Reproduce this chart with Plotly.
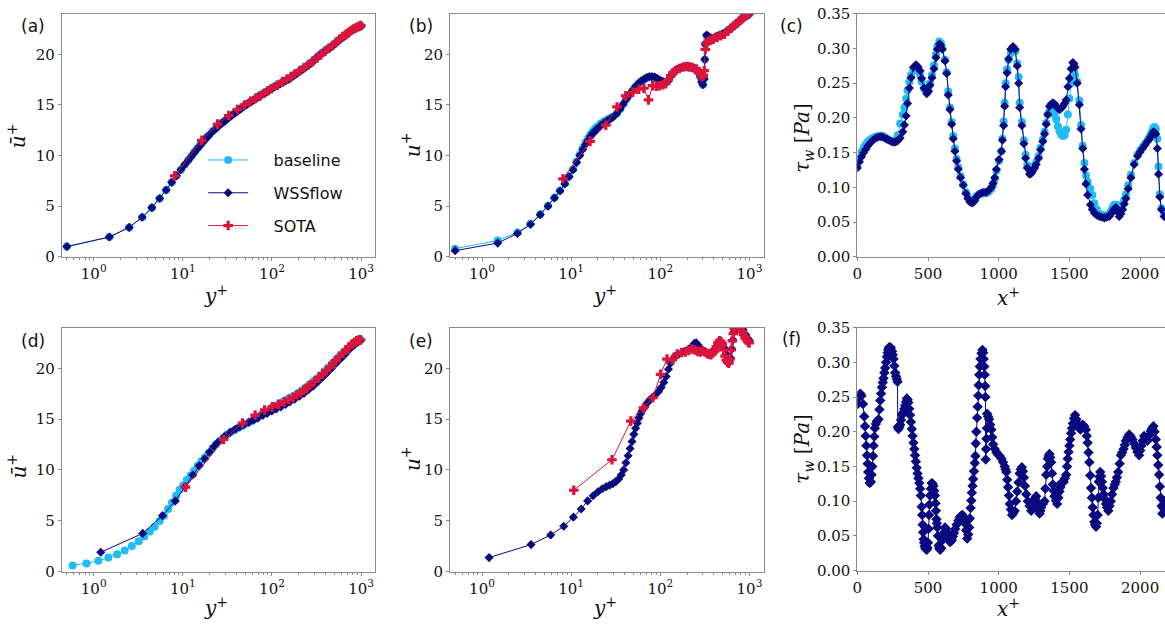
import plotly.graph_objects as go

# ---------------- colours ----------------
C_BASE = "#1ebcf2"
C_WSS = "#0a0a80"
C_SOTA = "#dc143c"

# ---------------- series names ----------------
names = ["baseline", "WSSflow", "SOTA"]
PAD = "\u00a0\u00a0\u00a0\u00a0"

# ---------------- panel (a): mean profile, case 1 ----------------
a_y = [0.5, 1.5, 2.5, 3.5, 4.5, 5.5, 6.5, 7.5, 8.5, 9.5, 10.5, 11.5, 12.5, 13.5, 14.5, 15.5, 16.5, 17.5, 18.5, 19.5,
       21.5, 23.5, 25.5, 27.5, 29.5, 32.5, 35.5, 38.5, 41.5, 44.5, 48.5, 52.5, 56.5, 60.5, 65.5, 70.5, 75.5, 80.5,
       86.5, 92.5, 99.5, 107.5, 115.5, 124.5, 133.5, 143.5, 154.5, 166.5, 179.5, 193.5, 208.5, 224.5, 241.5, 259.5,
       279.5, 300.5, 323.5, 347.5, 373.5, 401.5, 431.5, 463.5, 497.5, 534.5, 574.5, 617.5, 663.5, 712.5, 765.5,
       822.5, 883.5, 948.5, 999.5]
a_base = [1.0, 1.95, 2.9, 3.9, 4.85, 5.75, 6.6, 7.35, 8.0, 8.6, 9.1, 9.55, 9.95, 10.35, 10.7, 11.0, 11.3, 11.55, 11.8,
          12.0, 12.4, 12.7, 13.0, 13.25, 13.45, 13.75, 14.0, 14.25, 14.45, 14.65, 14.9, 15.1, 15.3, 15.45, 15.65,
          15.85, 16.0, 16.15, 16.3, 16.5, 16.65, 16.85, 17.0, 17.15, 17.3, 17.45, 17.6, 17.8, 18.0, 18.2, 18.4, 18.6,
          18.8, 19.0, 19.25, 19.5, 19.75, 20.0, 20.2, 20.4, 20.6, 20.8, 21.0, 21.25, 21.5, 21.7, 21.9, 22.1, 22.3,
          22.5, 22.65, 22.75, 22.8]
a_wss = [1.0, 1.95, 2.9, 3.9, 4.85, 5.75, 6.6, 7.35, 8.0, 8.6, 9.1, 9.5, 9.9, 10.3, 10.65, 10.95, 11.25, 11.5, 11.75,
         11.95, 12.35, 12.65, 12.95, 13.2, 13.4, 13.7, 13.95, 14.2, 14.4, 14.6, 14.85, 15.05, 15.25, 15.4, 15.6,
         15.8, 15.95, 16.1, 16.25, 16.45, 16.6, 16.8, 16.95, 17.1, 17.25, 17.4, 17.55, 17.75, 17.95, 18.15, 18.35,
         18.55, 18.75, 18.95, 19.2, 19.45, 19.7, 19.95, 20.15, 20.35, 20.55, 20.75, 20.95, 21.2, 21.45, 21.65, 21.85,
         22.05, 22.3, 22.5, 22.65, 22.75, 22.8]
a_sota_y = [8.1, 16.3, 24.5, 32.7, 40.9, 49.1, 57.3, 65.5, 73.7, 81.9, 90.1, 98.3, 114.7, 131.1, 147.5, 163.9, 180.3,
            204.9, 229.5, 254.1, 286.9, 319.7, 352.5, 393.5, 434.5, 475.5, 524.7, 573.9, 623.1, 672.3, 721.5, 770.7,
            819.9, 869.1, 918.3, 967.5, 992.1]
a_sota = [8.0, 11.5, 13.1, 13.95, 14.55, 15.0, 15.35, 15.65, 15.9, 16.15, 16.4, 16.6, 16.95, 17.3, 17.55, 17.8, 18.05,
          18.4, 18.7, 18.95, 19.3, 19.65, 19.95, 20.3, 20.6, 20.85, 21.2, 21.5, 21.75, 21.95, 22.15, 22.35, 22.5,
          22.6, 22.7, 22.8, 22.85]

# ---------------- panel (b): instantaneous profile, case 1 ----------------
b_y = [0.5, 1.5, 2.5, 3.5, 4.5, 5.5, 6.5, 7.5, 8.5, 9.5, 10.5, 11.5, 12.5, 13.5, 14.5, 15.5, 16.5, 17.5, 18.5, 19.5,
       21.5, 23.5, 25.5, 27.5, 29.5, 32.5, 35.5, 38.5, 41.5, 44.5, 48.5, 52.5, 56.5, 60.5, 65.5, 70.5, 75.5, 80.5,
       86.5, 92.5, 99.5, 107.5, 115.5, 124.5, 133.5, 143.5, 154.5, 166.5, 179.5, 193.5, 208.5, 224.5, 241.5, 259.5,
       279.5, 290.5, 300.5, 310.5, 315.5, 320.5, 330.5, 345.5, 373.5, 401.5, 431.5, 463.5, 497.5, 534.5, 574.5,
       617.5, 663.5, 712.5, 765.5, 822.5, 883.5, 948.5, 999.5]
b_wss = [0.6, 1.35, 2.3, 3.2, 4.15, 5.0, 5.8, 6.5, 7.2, 7.9, 8.6, 9.3, 10.0, 10.6, 11.1, 11.5, 11.9, 12.2, 12.45, 12.65,
         13.0, 13.25, 13.45, 13.6, 13.8, 14.15, 14.6, 15.1, 15.55, 15.95, 16.4, 16.8, 17.1, 17.35, 17.55, 17.7, 17.8,
         17.8, 17.75, 17.6, 17.45, 17.3, 17.2, 17.5, 17.95, 18.25, 18.5, 18.65, 18.75, 18.8, 18.8, 18.75, 18.6, 18.3,
         17.8, 17.3, 17.0, 17.6, 19.5, 21.0, 21.9, 21.8, 21.6, 21.6, 21.8, 21.9, 22.0, 22.15, 22.35, 22.55, 22.8,
         23.0, 23.25, 23.5, 23.7, 23.85, 24.0]
b_base = [0.8, 1.6, 2.4, 3.25, 4.2, 5.05, 5.85, 6.55, 7.25, 7.95, 8.65, 9.4, 10.1, 10.75, 11.3, 11.7, 12.1, 12.4,
          12.65, 12.85, 13.2, 13.4, 13.55, 13.7, 13.85, 14.15, 14.6, 15.1, 15.55, 15.95, 16.4, 16.8, 17.1, 17.3,
          17.5, 17.65, 17.75, 17.75, 17.7, 17.55, 17.4, 17.3, 17.2, 17.5, 17.95, 18.25, 18.5, 18.65, 18.75, 18.8,
          18.8, 18.75, 18.6, 18.3, 17.8, 17.3, 17.0, 17.6, 19.5, 21.0, 21.8, 21.7, 21.6, 21.6, 21.8, 21.9, 22.0,
          22.15, 22.35, 22.55, 22.8, 23.0, 23.25, 23.5, 23.7, 23.85, 24.0]
b_sota_y = [8.1, 16.3, 24.5, 32.7, 40.9, 49.1, 57.3, 65.5, 73.7, 81.9, 90.1, 98.3, 106.5, 114.7, 122.9, 131.1, 139.3,
            147.5, 163.9, 180.3, 196.7, 213.1, 229.5, 254.1, 270.5, 286.9, 295.1, 303.3, 311.5, 319.7, 327.9, 344.3,
            368.9, 393.5, 434.5, 475.5, 524.7, 573.9, 623.1, 672.3, 721.5, 770.7, 819.9, 869.1, 918.3, 967.5, 992.1]
b_sota = [7.7, 11.4, 13.0, 14.8, 15.9, 16.25, 16.55, 16.65, 15.5, 16.9, 16.85, 16.9, 17.0, 17.1, 17.5, 17.9, 18.2,
          18.4, 18.6, 18.75, 18.8, 18.75, 18.7, 18.55, 18.3, 17.9, 17.8, 17.95, 18.4, 20.5, 21.1, 21.3, 21.4, 21.5,
          21.7, 21.85, 22.0, 22.3, 22.6, 22.85, 23.05, 23.3, 23.5, 23.7, 23.85, 24.0, 24.05]

# ---------------- panel (c): wall shear stress, case 1 ----------------
c_x = [0, 15, 30, 45, 60, 75, 92, 110, 130, 150, 165, 180, 195, 210, 225, 240, 256, 270, 285, 303, 322, 333, 345,
       355, 368, 380, 397, 415, 430, 444, 455, 472, 491, 503, 514, 528, 542, 556, 566, 580, 590, 601, 620, 632, 643,
       655, 667, 678, 690, 702, 714, 730, 749, 768, 782, 796, 808, 819, 831, 843, 860, 878, 895, 913, 930, 948, 960,
       972, 984, 1002, 1019, 1026, 1035, 1042, 1049, 1059, 1070, 1085, 1101, 1117, 1131, 1141, 1148, 1164, 1178,
       1190, 1202, 1218, 1230, 1242, 1254, 1265, 1282, 1296, 1312, 1324, 1336, 1347, 1359, 1371, 1383, 1395, 1407,
       1418, 1430, 1442, 1454, 1466, 1477, 1489, 1500, 1512, 1524, 1532, 1540, 1555, 1570, 1582, 1594, 1606, 1617,
       1629, 1648, 1662, 1676, 1694, 1711, 1729, 1747, 1764, 1782, 1794, 1805, 1817, 1829, 1840, 1852, 1864, 1876,
       1888, 1900, 1916, 1935, 1958, 1982, 2000, 2017, 2035, 2052, 2064, 2076, 2085, 2094, 2103, 2111, 2122, 2130,
       2139, 2151, 2170]
c_wss = [0.128, 0.137, 0.144, 0.150, 0.155, 0.160, 0.164, 0.168, 0.171, 0.1725, 0.173, 0.1725, 0.171, 0.1695,
         0.168, 0.166, 0.165, 0.1655, 0.167, 0.171, 0.180, 0.190, 0.203, 0.221, 0.243, 0.258, 0.273, 0.2765, 0.2735,
         0.268, 0.257, 0.243, 0.235, 0.238, 0.247, 0.258, 0.271, 0.287, 0.299, 0.3065, 0.305, 0.299, 0.282, 0.264,
         0.233, 0.212, 0.191, 0.170, 0.152, 0.138, 0.126, 0.114, 0.103, 0.091, 0.084, 0.079, 0.078, 0.078, 0.081,
         0.086, 0.090, 0.092, 0.093, 0.093, 0.096, 0.100, 0.106, 0.114, 0.126, 0.140, 0.152, 0.168, 0.189, 0.217,
         0.245, 0.265, 0.285, 0.299, 0.303, 0.299, 0.275, 0.250, 0.215, 0.189, 0.163, 0.142, 0.128, 0.119, 0.120,
         0.124, 0.128, 0.133, 0.142, 0.154, 0.166, 0.177, 0.191, 0.205, 0.217, 0.220, 0.222, 0.220, 0.217, 0.214,
         0.212, 0.214, 0.217, 0.221, 0.226, 0.245, 0.257, 0.271, 0.280, 0.278, 0.273, 0.250, 0.219, 0.184, 0.156,
         0.126, 0.105, 0.089, 0.075, 0.068, 0.063, 0.060, 0.058, 0.057, 0.056, 0.057, 0.058, 0.062, 0.065, 0.069,
         0.071, 0.065, 0.058, 0.062, 0.068, 0.076, 0.084, 0.098, 0.114, 0.133, 0.145, 0.151, 0.156, 0.161, 0.166,
         0.169, 0.173, 0.176, 0.180, 0.179, 0.177, 0.156, 0.119, 0.086, 0.068, 0.058]
c_base = [0.132, 0.143, 0.151, 0.157, 0.162, 0.166, 0.169, 0.171, 0.173, 0.174, 0.1745, 0.174, 0.172, 0.170,
          0.168, 0.167, 0.166, 0.168, 0.175, 0.192, 0.205, 0.215, 0.228, 0.240, 0.252, 0.262, 0.270, 0.272, 0.268,
          0.262, 0.252, 0.242, 0.238, 0.240, 0.250, 0.262, 0.276, 0.292, 0.303, 0.310, 0.308, 0.300, 0.284, 0.266,
          0.238, 0.215, 0.194, 0.174, 0.156, 0.141, 0.129, 0.116, 0.104, 0.093, 0.086, 0.081, 0.080, 0.080, 0.083,
          0.087, 0.090, 0.091, 0.092, 0.092, 0.094, 0.098, 0.104, 0.112, 0.124, 0.138, 0.152, 0.170, 0.195, 0.222,
          0.250, 0.270, 0.284, 0.293, 0.297, 0.296, 0.279, 0.259, 0.222, 0.194, 0.168, 0.147, 0.132, 0.123, 0.123,
          0.127, 0.131, 0.136, 0.145, 0.157, 0.169, 0.180, 0.193, 0.205, 0.210, 0.213, 0.211, 0.205, 0.198, 0.188,
          0.181, 0.176, 0.174, 0.175, 0.183, 0.205, 0.228, 0.250, 0.262, 0.267, 0.262, 0.252, 0.225, 0.190, 0.160,
          0.135, 0.117, 0.108, 0.098, 0.089, 0.077, 0.068, 0.062, 0.060, 0.059, 0.060, 0.062, 0.066, 0.071, 0.075,
          0.075, 0.074, 0.071, 0.072, 0.076, 0.082, 0.090, 0.103, 0.118, 0.135, 0.147, 0.153, 0.158, 0.163, 0.168,
          0.172, 0.177, 0.181, 0.186, 0.187, 0.184, 0.170, 0.130, 0.090, 0.070, 0.060]

# ---------------- panel (d): mean profile, case 2 ----------------
d_base_y = [0.58, 0.83, 1.13, 1.46, 1.83, 2.23, 2.68, 3.2, 3.69, 4.26, 4.83, 5.5, 6.13, 6.83, 7.56, 8.4, 9.2, 10.1,
            11.1, 12.2, 13.4, 14.7, 16.1, 17.7, 19.5, 21.5, 23.7, 26.1, 28.7, 31.6, 34.8, 38.3, 42.2, 46.5, 51.2,
            56.4, 62.1, 68.4, 75.3, 82.9, 91.3, 100.5, 110.7, 121.9, 134.2, 147.8, 162.7, 179.2, 197.3, 217.3,
            239.3, 263.5, 290.2, 319.5, 351.8, 387.4, 426.6, 469.7, 517.2, 569.5, 627.1, 690.5, 760.3, 837.2,
            921.8, 985.0]
d_base = [0.58, 0.8, 1.05, 1.37, 1.7, 2.08, 2.5, 2.97, 3.45, 3.93, 4.4, 4.98, 5.5, 6.15, 6.8, 7.45, 8.05, 8.5, 9.0,
          9.45, 9.95, 10.4, 10.85, 11.25, 11.7, 12.1, 12.55, 12.9, 13.2, 13.5, 13.75, 13.95, 14.15, 14.35, 14.55,
          14.75, 14.95, 15.15, 15.4, 15.6, 15.85, 16.15, 16.35, 16.55, 16.75, 16.95, 17.15, 17.35, 17.6, 17.85,
          18.1, 18.4, 18.7, 19.0, 19.35, 19.7, 20.05, 20.45, 20.8, 21.15, 21.5, 21.8, 22.1, 22.4, 22.65, 22.8]
d_wss_y = [1.2, 3.55, 5.9, 8.25, 10.6, 12.95, 15.3, 17.65, 20.0, 22.35, 24.7, 29.4, 34.1, 38.8, 43.5, 48.2, 55.25,
           62.3, 69.35, 78.75, 88.15, 99.9, 111.65, 125.75, 142.2, 158.65, 179.8, 203.3, 229.15, 257.35, 290.25,
           325.5, 367.8, 414.8, 466.5, 525.25, 590.9, 664.1, 746.35, 837.95, 929.6, 985.0]
d_wss = [1.9, 3.75, 5.5, 6.95, 8.35, 9.5, 10.4, 11.1, 11.75, 12.3, 12.7, 13.3, 13.7, 14.0, 14.25, 14.45, 14.7, 14.9,
         15.1, 15.35, 15.55, 15.8, 16.0, 16.2, 16.45, 16.7, 16.95, 17.25, 17.55, 17.9, 18.25, 18.65, 19.1, 19.55,
         20.0, 20.5, 20.95, 21.4, 21.9, 22.3, 22.6, 22.75]
d_sota_y = [10.7, 28.7, 46.7, 64.7, 82.7, 100.7, 118.7, 136.7, 154.7, 172.7, 190.7, 208.7, 226.7, 244.7, 262.7,
            298.7, 334.7, 370.7, 406.7, 442.7, 478.7, 514.7, 568.7, 622.7, 676.7, 730.7, 784.7, 838.7, 892.7,
            946.7, 982.7]
d_sota = [8.3, 13.0, 14.6, 15.4, 15.9, 16.2, 16.45, 16.7, 16.95, 17.15, 17.4, 17.6, 17.85, 18.05, 18.3, 18.7, 19.1,
          19.45, 19.8, 20.1, 20.45, 20.75, 21.15, 21.5, 21.8, 22.1, 22.35, 22.55, 22.7, 22.8, 22.8]

# ---------------- panel (e): instantaneous profile, case 2 ----------------
e_wss_y = [1.2, 3.55, 5.9, 8.25, 10.6, 12.95, 15.3, 17.65, 20.0, 22.35, 24.7, 27.05, 29.4, 31.75, 34.1, 36.45,
           38.8, 41.15, 43.5, 45.85, 48.2, 50.55, 52.9, 55.25, 57.6, 59.95, 62.3, 66.95, 71.65, 76.35, 81.05, 88.1,
           95.15, 102.2, 109.25, 116.3, 123.35, 130.4, 137.45, 146.85, 158.6, 172.7, 189.15, 207.95, 226.75,
           240.85, 252.6, 264.35, 278.45, 297.25, 320.75, 346.6, 374.8, 405.35, 431.2, 452.35, 473.5, 497.0,
           522.85, 546.35, 569.85, 595.7, 616.85, 635.65, 654.45, 673.25, 694.4, 743.75, 795.45, 849.5, 910.6,
           966.85, 999.75]
e_wss = [1.37, 2.65, 3.6, 4.45, 5.35, 6.15, 6.95, 7.45, 7.85, 8.15, 8.35, 8.5, 8.65, 8.85, 9.1, 9.5, 10.0, 10.7,
         11.4, 12.1, 12.8, 13.5, 14.1, 14.6, 15.1, 15.5, 15.8, 16.2, 16.6, 16.9, 17.1, 17.4, 17.7, 18.1, 18.6, 19.2,
         19.9, 20.5, 20.9, 21.2, 21.35, 21.5, 21.7, 21.9, 22.15, 22.45, 22.5, 22.3, 22.0, 21.8, 21.6, 21.5, 21.6,
         21.8, 22.2, 22.5, 22.6, 22.5, 22.0, 21.4, 20.9, 20.6, 21.0, 21.9, 22.8, 23.6, 24.1, 24.3, 24.2, 23.8,
         23.3, 22.9, 22.7]
e_sota_y = [10.7, 28.7, 46.7, 64.7, 82.7, 100.7, 118.7, 136.7, 154.7, 172.7, 190.7, 208.7, 226.7, 244.7, 262.7,
            280.7, 298.7, 316.7, 334.7, 352.7, 370.7, 388.7, 406.7, 424.7, 442.7, 460.7, 478.7, 496.7, 514.7,
            532.7, 550.7, 568.7, 586.7, 604.7, 622.7, 640.7, 658.7, 676.7, 694.7, 712.7, 748.7, 784.7, 820.7,
            856.7, 892.7, 928.7, 964.7, 994.7]
e_sota = [8.0, 11.0, 14.8, 16.1, 17.1, 19.4, 20.9, 20.85, 21.4, 21.55, 21.6, 21.75, 21.9, 21.8, 21.65, 21.6, 21.7,
          21.6, 21.45, 21.4, 21.35, 21.5, 21.7, 22.1, 22.5, 22.7, 22.6, 22.3, 21.8, 21.2, 20.8, 20.6, 20.5, 20.9,
          21.8, 22.7, 23.4, 23.9, 24.2, 24.3, 24.2, 23.9, 23.6, 23.3, 23.0, 22.8, 22.6, 22.5]

# ---------------- panel (f): wall shear stress, case 2 ----------------
f_x = [2, 12, 21, 30, 40, 49, 54, 59, 64, 68, 73, 77, 82, 87, 96, 101, 106, 111, 115, 120, 124, 131, 138, 150, 156,
       162, 168, 174, 180, 185, 191, 197, 203, 209, 214, 218, 223, 228, 237, 246, 251, 256, 262, 268, 274, 279, 284,
       286, 291, 297, 303, 309, 315, 320, 326, 332, 338, 344, 350, 356, 361, 367, 373, 379, 385, 391, 397, 403, 408,
       414, 420, 426, 432, 438, 444, 449, 455, 459, 462, 465, 469, 472, 476, 481, 486, 491, 496, 500, 504, 507, 510,
       514, 520, 526, 532, 538, 544, 549, 553, 556, 560, 563, 566, 570, 575, 580, 585, 594, 603, 611, 620, 628, 636,
       645, 655, 662, 669, 676, 683, 692, 702, 714, 725, 735, 744, 752, 761, 769, 777, 784, 791, 796, 801, 806, 810,
       815, 819, 825, 831, 835, 838, 842, 847, 851, 855, 858, 862, 866, 871, 878, 885, 890, 894, 898, 901, 904, 906,
       908, 911, 913, 916, 918, 925, 932, 940, 948, 954, 960, 972, 984, 996, 1007, 1019, 1031, 1042, 1048, 1054,
       1060, 1066, 1072, 1078, 1086, 1094, 1103, 1113, 1122, 1131, 1140, 1148, 1156, 1164, 1171, 1178, 1186, 1195,
       1206, 1218, 1230, 1240, 1249, 1257, 1265, 1271, 1277, 1283, 1289, 1295, 1300, 1312, 1324, 1330, 1336, 1342,
       1347, 1353, 1359, 1365, 1371, 1377, 1383, 1389, 1394, 1404, 1413, 1422, 1430, 1436, 1441, 1450, 1460, 1468,
       1477, 1483, 1488, 1494, 1500, 1506, 1512, 1518, 1524, 1532, 1540, 1549, 1559, 1568, 1578, 1586, 1594, 1605,
       1617, 1623, 1629, 1635, 1641, 1647, 1653, 1659, 1664, 1670, 1676, 1682, 1688, 1694, 1700, 1704, 1707, 1712,
       1718, 1724, 1730, 1736, 1742, 1750, 1758, 1766, 1775, 1784, 1793, 1802, 1812, 1820, 1828, 1836, 1845, 1855,
       1864, 1873, 1883, 1891, 1899, 1911, 1923, 1934, 1946, 1957, 1969, 1981, 1993, 2001, 2009, 2018, 2028, 2040,
       2052, 2064, 2075, 2085, 2094, 2102, 2111, 2117, 2122, 2128, 2134, 2140, 2146, 2152, 2157, 2163, 2169]
f_wss = [0.240, 0.250, 0.255, 0.252, 0.240, 0.222, 0.208, 0.194, 0.180, 0.166, 0.154, 0.142, 0.133, 0.126, 0.128,
         0.138, 0.150, 0.165, 0.180, 0.193, 0.205, 0.211, 0.215, 0.218, 0.232, 0.245, 0.255, 0.264, 0.271, 0.277,
         0.285, 0.292, 0.300, 0.308, 0.314, 0.318, 0.321, 0.322, 0.321, 0.316, 0.311, 0.305, 0.295, 0.285, 0.280,
         0.276, 0.272, 0.207, 0.204, 0.207, 0.210, 0.217, 0.224, 0.226, 0.228, 0.233, 0.238, 0.243, 0.248, 0.246,
         0.242, 0.233, 0.224, 0.214, 0.204, 0.194, 0.184, 0.175, 0.166, 0.157, 0.148, 0.140, 0.133, 0.126, 0.118,
         0.108, 0.092, 0.080, 0.066, 0.055, 0.045, 0.040, 0.035, 0.032, 0.031, 0.030, 0.033, 0.040, 0.060, 0.080,
         0.095, 0.108, 0.118, 0.126, 0.125, 0.122, 0.115, 0.108, 0.097, 0.086, 0.074, 0.068, 0.062, 0.050, 0.036,
         0.032, 0.030, 0.032, 0.044, 0.054, 0.062, 0.060, 0.055, 0.048, 0.041, 0.042, 0.044, 0.049, 0.054, 0.060,
         0.066, 0.072, 0.077, 0.079, 0.080, 0.076, 0.068, 0.058, 0.046, 0.052, 0.062, 0.075, 0.090, 0.101, 0.112,
         0.122, 0.132, 0.143, 0.155, 0.165, 0.183, 0.200, 0.220, 0.236, 0.252, 0.267, 0.282, 0.294, 0.305, 0.313,
         0.318, 0.314, 0.305, 0.294, 0.282, 0.266, 0.250, 0.160, 0.175, 0.190, 0.205, 0.226, 0.222, 0.218, 0.210,
         0.203, 0.192, 0.182, 0.175, 0.170, 0.167, 0.165, 0.161, 0.156, 0.150, 0.146, 0.142, 0.131, 0.120, 0.108,
         0.096, 0.088, 0.080, 0.083, 0.086, 0.100, 0.114, 0.127, 0.140, 0.146, 0.149, 0.143, 0.134, 0.122, 0.110,
         0.100, 0.093, 0.086, 0.093, 0.100, 0.104, 0.107, 0.099, 0.091, 0.086, 0.082, 0.086, 0.091, 0.096, 0.100,
         0.118, 0.138, 0.150, 0.161, 0.165, 0.168, 0.163, 0.156, 0.140, 0.124, 0.115, 0.107, 0.101, 0.096, 0.105,
         0.114, 0.120, 0.126, 0.127, 0.128, 0.133, 0.138, 0.150, 0.161, 0.171, 0.180, 0.189, 0.198, 0.205, 0.212,
         0.219, 0.224, 0.218, 0.212, 0.207, 0.203, 0.207, 0.210, 0.208, 0.203, 0.194, 0.184, 0.170, 0.156, 0.137,
         0.119, 0.105, 0.091, 0.080, 0.070, 0.066, 0.063, 0.068, 0.080, 0.105, 0.128, 0.135, 0.142, 0.136, 0.128,
         0.119, 0.110, 0.103, 0.096, 0.091, 0.086, 0.093, 0.100, 0.110, 0.119, 0.124, 0.128, 0.134, 0.142, 0.154,
         0.166, 0.170, 0.175, 0.181, 0.187, 0.192, 0.196, 0.193, 0.189, 0.183, 0.177, 0.171, 0.166, 0.173, 0.180,
         0.187, 0.194, 0.190, 0.187, 0.195, 0.201, 0.205, 0.208, 0.200, 0.189, 0.178, 0.166, 0.152, 0.138, 0.121,
         0.105, 0.093, 0.082, 0.090, 0.100]

# ---------------- tick labels ----------------
log_tickvals = [1, 10, 100, 1000]
log_ticktext = ["10<sup>0</sup>", "10<sup>1</sup>", "10<sup>2</sup>", "10<sup>3</sup>"]
log_minor = [0.5, 0.6, 0.7, 0.8, 0.9, 2, 3, 4, 5, 6, 7, 8, 9, 20, 30, 40, 50, 60, 70, 80, 90,
             200, 300, 400, 500, 600, 700, 800, 900]
u_tickvals = [0, 5, 10, 15, 20]
tau_tickvals = [0.0, 0.05, 0.10, 0.15, 0.20, 0.25, 0.30, 0.35]
x_tickvals = [0, 500, 1000, 1500, 2000]

W, H = 1165, 632
FRAME = "#8a8a8a"
TICKFONT = dict(family="DejaVu Serif", size=15, color="#111111")

fig = go.Figure()


def line_trace(x, y, color, symbol, size, xa, ya, name, show=False, group=None):
    fig.add_trace(go.Scatter(
        x=x, y=y, mode="lines+markers", name=(PAD + name) if show else name,
        showlegend=show, legendgroup=group,
        line=dict(color=color, width=1),
        marker=dict(color=color, symbol=symbol, size=size, line=dict(width=0)),
        xaxis=xa, yaxis=ya, cliponaxis=True))


# (a)
line_trace(a_y, a_base, C_BASE, "circle", 8, "x", "y", names[0], True, "g1")
line_trace(a_y, a_wss, C_WSS, "diamond", 7, "x", "y", names[1], True, "g2")
line_trace(a_sota_y, a_sota, C_SOTA, "cross", 8, "x", "y", names[2], True, "g3")
# (b)
line_trace(b_y, b_base, C_BASE, "circle", 8, "x2", "y2", names[0])
line_trace(b_y, b_wss, C_WSS, "diamond", 7, "x2", "y2", names[1])
line_trace(b_sota_y, b_sota, C_SOTA, "cross", 8, "x2", "y2", names[2])
# (c)
line_trace(c_x, c_base, C_BASE, "circle", 8, "x3", "y3", names[0])
line_trace(c_x, c_wss, C_WSS, "diamond", 7, "x3", "y3", names[1])
# (d)
line_trace(d_base_y, d_base, C_BASE, "circle", 8, "x4", "y4", names[0])
line_trace(d_wss_y, d_wss, C_WSS, "diamond", 7, "x4", "y4", names[1])
line_trace(d_sota_y, d_sota, C_SOTA, "cross", 8, "x4", "y4", names[2])
# (e)
line_trace(e_wss_y, e_wss, C_WSS, "diamond", 7, "x5", "y5", names[1])
line_trace(e_sota_y, e_sota, C_SOTA, "cross", 8, "x5", "y5", names[2])
# (f)
line_trace(f_x, f_wss, C_WSS, "diamond", 8, "x6", "y6", names[1])


def px_x(a, b):
    return [a / W, b / W]


def px_y(top, bottom):
    return [1 - bottom / H, 1 - top / H]


log_range = [-0.358, 3.16]
common = dict(showgrid=False, zeroline=False, showline=True, linecolor=FRAME, linewidth=1,
              ticks="outside", ticklen=3, tickcolor=FRAME, tickfont=TICKFONT)


def log_x(dom, anchor):
    return dict(domain=dom, anchor=anchor, type="log", range=log_range, mirror=True,
                tickmode="array", tickvals=log_tickvals, ticktext=log_ticktext,
                minor=dict(tickmode="array", tickvals=log_minor, ticks="outside", ticklen=2, tickcolor=FRAME),
                **common)


def u_y(dom, anchor):
    return dict(domain=dom, anchor=anchor, range=[0, 24], mirror=True,
                tickmode="array", tickvals=u_tickvals, **common)


def lin_x(dom, anchor):
    return dict(domain=dom, anchor=anchor, range=[0, 2176], mirror=True,
                tickmode="array", tickvals=x_tickvals, **common)


def tau_y(dom, anchor):
    return dict(domain=dom, anchor=anchor, range=[0, 0.35], mirror=False,
                tickmode="array", tickvals=tau_tickvals, tickformat=".2f", **common)


top = px_y(5, 255)
bot = px_y(328, 579)
botf = px_y(328, 578)
colA = px_x(57, 372)
colB = px_x(447, 762)
colC = [856 / W, 1.0]

fig.update_layout(
    width=W, height=H, margin=dict(l=0, r=0, t=0, b=0),
    paper_bgcolor="white", plot_bgcolor="white",
    xaxis=log_x(colA, "y"), yaxis=u_y(top, "x"),
    xaxis2=log_x(colB, "y2"), yaxis2=u_y(top, "x2"),
    xaxis3=lin_x(colC, "y3"), yaxis3=tau_y(top, "x3"),
    xaxis4=log_x(colA, "y4"), yaxis4=u_y(bot, "x4"),
    xaxis5=log_x(colB, "y5"), yaxis5=u_y(bot, "x5"),
    xaxis6=lin_x(colC, "y6"), yaxis6=tau_y(botf, "x6"),
    legend=dict(x=199 / W, y=1 - 138 / H, xanchor="left", yanchor="top",
                bgcolor="rgba(255,255,255,0)", font=dict(family="DejaVu Sans", size=16, color="#111111"),
                tracegroupgap=9, itemwidth=40),
    showlegend=True,
)

SERIF_T = dict(family="DejaVu Serif", size=20, color="#111111")
SANS_L = dict(family="DejaVu Sans", size=17, color="#111111")


def ann(text, x, y, font, angle=0):
    fig.add_annotation(text=text, x=x / W, y=1 - y / H, xref="paper", yref="paper",
                       showarrow=False, font=font, textangle=angle, xanchor="center", yanchor="middle")


# panel labels
ann("(a)", 28, 17, SANS_L)
ann("(b)", 418, 17, SANS_L)
ann("(c)", 790, 17, SANS_L)
ann("(d)", 28, 342, SANS_L)
ann("(e)", 418, 342, SANS_L)
ann("(f)", 790, 340, SANS_L)

# axis titles
ann("<i>ū</i><sup>+</sup>", 12, 130, SERIF_T, -90)
ann("<i>u</i><sup>+</sup>", 408, 140, SERIF_T, -90)
ann("<i>τ<sub>w</sub></i> [<i>Pa</i>]", 802, 133, SERIF_T, -90)
ann("<i>ū</i><sup>+</sup>", 12, 470, SERIF_T, -90)
ann("<i>u</i><sup>+</sup>", 408, 463, SERIF_T, -90)
ann("<i>τ<sub>w</sub></i> [<i>Pa</i>]", 802, 453, SERIF_T, -90)
ann("<i>y</i><sup>+</sup>", 212, 294, SERIF_T)
ann("<i>y</i><sup>+</sup>", 603, 294, SERIF_T)
ann("<i>x</i><sup>+</sup>", 1008, 296, SERIF_T)
ann("<i>y</i><sup>+</sup>", 212, 616, SERIF_T)
ann("<i>y</i><sup>+</sup>", 603, 616, SERIF_T)
ann("<i>x</i><sup>+</sup>", 1008, 617, SERIF_T)

fig.write_html("out.html")
